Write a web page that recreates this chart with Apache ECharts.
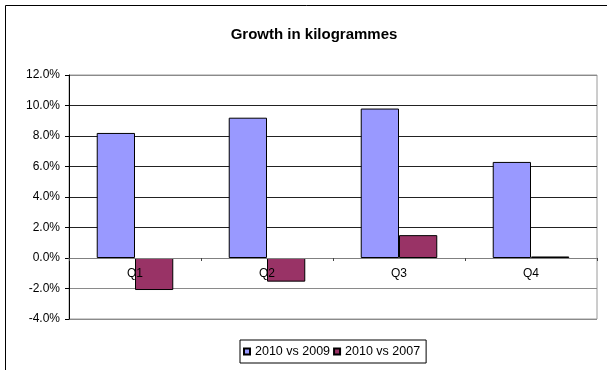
<!DOCTYPE html>
<html>
<head>
<meta charset="utf-8">
<script src="https://cdn.jsdelivr.net/npm/echarts@6/dist/echarts.min.js"></script>
<style>
  html, body { margin: 0; padding: 0; background: #fff; }
  #chart { width: 607px; height: 370px; }
</style>
</head>
<body>
<div id="chart"></div>
<script>
// Quarterly growth in kilogrammes, in percent
const quarters = ['Q1', 'Q2', 'Q3', 'Q4'];
const vs2009 = [8.2, 9.2, 9.8, 6.3];
const vs2007 = [-2.1, -1.55, 1.5, 0.1];
const seriesNames = ['2010 vs 2009', '2010 vs 2007'];

const Y_MIN = -4, Y_MAX = 12, Y_STEP = 2;
const FONT = '"Liberation Sans", Arial, sans-serif';

// plot box in pixels
const GRID_TOP = 75, GRID_BOTTOM = 51, GRID_LEFT = 69, GRID_RIGHT = 10;
const plotHeight = 370 - GRID_TOP - GRID_BOTTOM;
// lift the category axis from the plot bottom up to the zero line
const zeroOffset = -plotHeight * (0 - Y_MIN) / (Y_MAX - Y_MIN);

const chart = echarts.init(document.getElementById('chart'), null, { renderer: 'canvas' });

chart.setOption({
  animation: false,
  backgroundColor: '#fff',
  textStyle: { fontFamily: FONT },
  title: {
    text: 'Growth in kilogrammes',
    left: 309,
    textAlign: 'center',
    top: 22,
    textStyle: { fontFamily: FONT, fontSize: 15, fontWeight: 'bold', color: '#000' }
  },
  graphic: [{
    type: 'rect',
    shape: { x: 5.5, y: 5.5, width: 700, height: 500 },
    style: { fill: null, stroke: '#000', lineWidth: 1 },
    silent: true,
    z: 100
  }],
  grid: {
    left: GRID_LEFT, right: GRID_RIGHT, top: GRID_TOP, bottom: GRID_BOTTOM,
    show: true,
    borderColor: '#9a9a9a',
    borderWidth: 1,
    backgroundColor: '#fff'
  },
  legend: {
    data: seriesNames,
    left: 240,
    top: 340,
    orient: 'horizontal',
    padding: [5, 6, 5, 3],
    borderColor: '#000',
    borderWidth: 1,
    itemWidth: 6,
    itemHeight: 6,
    itemGap: 3,
    icon: 'rect',
    textStyle: { fontFamily: FONT, fontSize: 12.5, color: '#000' }
  },
  xAxis: {
    type: 'category',
    data: quarters,
    position: 'bottom',
    offset: zeroOffset,
    axisLine: { onZero: false, lineStyle: { color: '#808080', width: 1 } },
    axisTick: { show: true, length: 3, alignWithLabel: false, lineStyle: { color: '#444' } },
    axisLabel: { color: '#000', fontSize: 12, fontFamily: FONT, margin: 10 },
    splitLine: { show: false },
    z: 3
  },
  yAxis: {
    type: 'value',
    min: Y_MIN,
    max: Y_MAX,
    interval: Y_STEP,
    axisLine: { show: true, lineStyle: { color: '#000', width: 1 } },
    axisTick: { show: true, length: 4, lineStyle: { color: '#000' } },
    axisLabel: {
      color: '#000', fontSize: 12, fontFamily: FONT, margin: 9,
      formatter: v => v.toFixed(1) + '%'
    },
    splitLine: {
      show: true,
      lineStyle: {
        color: ['#8a8a8a', '#8a8a8a', '#222', '#222', '#222', '#222', '#222', '#222', '#8a8a8a'],
        width: 1
      }
    }
  },
  series: [
    {
      name: seriesNames[0],
      type: 'bar',
      data: vs2009,
      barGap: '0%',
      barCategoryGap: '42%',
      itemStyle: { color: '#9999ff', borderColor: '#000', borderWidth: 1 }
    },
    {
      name: seriesNames[1],
      type: 'bar',
      data: vs2007,
      itemStyle: { color: '#993366', borderColor: '#000', borderWidth: 1 }
    }
  ]
});
</script>
</body>
</html>
